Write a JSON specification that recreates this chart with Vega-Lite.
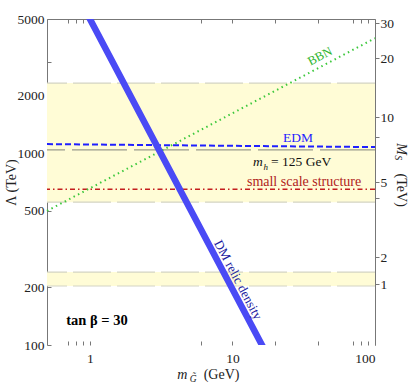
{
  "$schema": "https://vega.github.io/schema/vega-lite/v6.json",
  "width": 328,
  "height": 326,
  "autosize": "none",
  "padding": {"left": 47, "top": 19, "right": 36, "bottom": 43},
  "background": "white",
  "config": {
    "view": {"stroke": null},
    "font": "'Liberation Serif', 'Times New Roman', Times, serif",
    "text": {"font": "'Liberation Serif', 'Times New Roman', Times, serif"},
    "axis": {
      "grid": false,
      "labelFont": "'Liberation Serif', 'Times New Roman', Times, serif",
      "labelFontSize": 13.5,
      "labelColor": "#222222",
      "tickColor": "#777777",
      "domainColor": "#777777",
      "titleFont": "'Liberation Serif', 'Times New Roman', Times, serif",
      "titleFontSize": 14,
      "titleFontWeight": "normal",
      "titleColor": "#222222"
    }
  },
  "resolve": {"scale": {"x": "shared", "y": "shared"}, "axis": {"x": "independent", "y": "independent"}},
  "layer": [
    {
      "data": {"values": [{"lo": 555, "hi": 2317, "m0": 0.5, "m1": 100}, {"lo": 203, "hi": 240, "m0": 0.5, "m1": 100}]},
      "mark": {"type": "rect", "fill": "#fffcd6"},
      "encoding": {
        "x": {"field": "m0", "type": "quantitative", "scale": {"type": "log", "domain": [0.5, 100], "nice": false}, "axis": null},
        "x2": {"field": "m1"},
        "y": {"field": "lo", "type": "quantitative", "scale": {"type": "log", "domain": [100, 5000], "nice": false}, "axis": null},
        "y2": {"field": "hi"}
      }
    },
    {
      "data": {"values": [{"v": 2317}, {"v": 555}, {"v": 240}, {"v": 203}]},
      "mark": {"type": "rule", "color": "#d4d4c4", "strokeWidth": 1.2, "strokeDash": [38, 6]},
      "encoding": {
        "y": {"field": "v", "type": "quantitative", "scale": {"type": "log", "domain": [100, 5000], "nice": false}, "axis": null}
      }
    },
    {
      "data": {"values": [{"v": 1040}]},
      "mark": {"type": "rule", "color": "#9a9a8c", "strokeWidth": 1.3, "strokeDash": [55, 7]},
      "encoding": {
        "y": {"field": "v", "type": "quantitative", "scale": {"type": "log", "domain": [100, 5000], "nice": false}, "axis": null}
      }
    },
    {
      "data": {"values": [{"v": 649}]},
      "mark": {"type": "rule", "color": "#c41e1e", "strokeWidth": 1.5, "strokeDash": [5, 3, 1.5, 3]},
      "encoding": {
        "y": {"field": "v", "type": "quantitative", "scale": {"type": "log", "domain": [100, 5000], "nice": false}, "axis": null}
      }
    },
    {
      "data": {"values": [{"m": 0.5, "L": 1114}, {"m": 100, "L": 1075}]},
      "mark": {"type": "line", "color": "#1f1fff", "strokeWidth": 2, "strokeDash": [6, 3]},
      "encoding": {
        "x": {"field": "m", "type": "quantitative", "scale": {"type": "log", "domain": [0.5, 100], "nice": false}, "axis": null},
        "y": {"field": "L", "type": "quantitative", "scale": {"type": "log", "domain": [100, 5000], "nice": false}, "axis": null}
      }
    },
    {
      "data": {"values": [{"m": 0.5, "L": 500}, {"m": 100, "L": 3970}]},
      "mark": {"type": "line", "color": "#3cc83c", "strokeWidth": 2, "strokeDash": [1.5, 3.5]},
      "encoding": {
        "x": {"field": "m", "type": "quantitative", "scale": {"type": "log", "domain": [0.5, 100], "nice": false},
          "axis": {"orient": "top", "title": null, "values": [0.7, 0.8, 0.9, 1, 6, 10, 20, 40, 70, 80, 90, 100], "labels": false, "tickSize": -4, "domain": true}},
        "y": {"field": "L", "type": "quantitative", "scale": {"type": "log", "domain": [100, 5000], "nice": false},
          "axis": {"orient": "right", "title": null, "values": [207.9, 287.3, 583, 706, 1211, 1540, 3125, 4753], "tickSize": 4, "labelPadding": 1,
            "labelExpr": "datum.value < 250 ? '1' : datum.value < 300 ? '2' : datum.value < 650 ? '' : datum.value < 800 ? '5' : datum.value < 1300 ? '' : datum.value < 2000 ? '10' : datum.value < 4000 ? '20' : '30'"}}
      }
    },
    {
      "data": {"values": [{"m": 0.9, "L": 5800}, {"m": 16.1, "L": 100}, {"m": 18, "L": 86}]},
      "mark": {"type": "line", "color": "#4a4af5", "strokeWidth": 6.5, "clip": true},
      "encoding": {
        "x": {"field": "m", "type": "quantitative", "scale": {"type": "log", "domain": [0.5, 100], "nice": false},
          "axis": {"orient": "bottom", "title": null, "domain": false, "values": [0.7, 0.8, 0.9, 1, 6, 10, 20, 40, 70, 80, 90, 100], "tickSize": -4, "labelPadding": 10,
            "labelExpr": "datum.value == 1 || datum.value == 10 || datum.value == 100 ? format(datum.value, 'd') : ''"}},
        "y": {"field": "L", "type": "quantitative", "scale": {"type": "log", "domain": [100, 5000], "nice": false},
          "axis": {"orient": "left", "title": "Λ (TeV)", "values": [100, 200, 500, 1000, 2000, 3000, 5000], "tickSize": -4, "labelPadding": 7, "titleX": -36, "titleY": 163, "titleAngle": 270, "titleAnchor": "middle", "titleBaseline": "middle", "titleAlign": "center",
            "labelExpr": "datum.value == 3000 ? '' : format(datum.value, 'd')"}}
      }
    },
    {
      "data": {"values": [{"m": 41.1, "L": 3199, "t": "BBN"}]},
      "mark": {"type": "text", "color": "#2fb52f", "fontSize": 12.5, "angle": 332, "align": "center", "baseline": "middle"},
      "encoding": {
        "x": {"field": "m", "type": "quantitative", "scale": {"type": "log", "domain": [0.5, 100], "nice": false}, "axis": null},
        "y": {"field": "L", "type": "quantitative", "scale": {"type": "log", "domain": [100, 5000], "nice": false}, "axis": null},
        "text": {"field": "t"}
      }
    },
    {
      "data": {"values": [{"m": 28.8, "L": 1197, "t": "EDM"}]},
      "mark": {"type": "text", "color": "#1f1fff", "fontSize": 13.5, "align": "center", "baseline": "middle"},
      "encoding": {
        "x": {"field": "m", "type": "quantitative", "scale": {"type": "log", "domain": [0.5, 100], "nice": false}, "axis": null},
        "y": {"field": "L", "type": "quantitative", "scale": {"type": "log", "domain": [100, 5000], "nice": false}, "axis": null},
        "text": {"field": "t"}
      }
    },
    {
      "data": {"values": [{"m": 15.1, "L": 897, "t": "m"}]},
      "mark": {"type": "text", "color": "#111111", "fontSize": 13.5, "fontStyle": "italic", "align": "center", "baseline": "middle"},
      "encoding": {
        "x": {"field": "m", "type": "quantitative", "scale": {"type": "log", "domain": [0.5, 100], "nice": false}, "axis": null},
        "y": {"field": "L", "type": "quantitative", "scale": {"type": "log", "domain": [100, 5000], "nice": false}, "axis": null},
        "text": {"field": "t"}
      }
    },
    {
      "data": {"values": [{"m": 17.1, "L": 850, "t": "h"}]},
      "mark": {"type": "text", "color": "#111111", "fontSize": 9, "fontStyle": "italic", "align": "center", "baseline": "middle"},
      "encoding": {
        "x": {"field": "m", "type": "quantitative", "scale": {"type": "log", "domain": [0.5, 100], "nice": false}, "axis": null},
        "y": {"field": "L", "type": "quantitative", "scale": {"type": "log", "domain": [100, 5000], "nice": false}, "axis": null},
        "text": {"field": "t"}
      }
    },
    {
      "data": {"values": [{"m": 30.3, "L": 897, "t": "= 125 GeV"}]},
      "mark": {"type": "text", "color": "#111111", "fontSize": 13.5, "align": "center", "baseline": "middle"},
      "encoding": {
        "x": {"field": "m", "type": "quantitative", "scale": {"type": "log", "domain": [0.5, 100], "nice": false}, "axis": null},
        "y": {"field": "L", "type": "quantitative", "scale": {"type": "log", "domain": [100, 5000], "nice": false}, "axis": null},
        "text": {"field": "t"}
      }
    },
    {
      "data": {"values": [{"m": 31.8, "L": 706, "t": "small scale structure"}]},
      "mark": {"type": "text", "color": "#b01c1c", "fontSize": 14, "align": "center", "baseline": "middle"},
      "encoding": {
        "x": {"field": "m", "type": "quantitative", "scale": {"type": "log", "domain": [0.5, 100], "nice": false}, "axis": null},
        "y": {"field": "L", "type": "quantitative", "scale": {"type": "log", "domain": [100, 5000], "nice": false}, "axis": null},
        "text": {"field": "t"}
      }
    },
    {
      "data": {"values": [{"m": 10.94, "L": 218, "t": "DM relic density"}]},
      "mark": {"type": "text", "color": "#1c1ca0", "fontSize": 13, "angle": 62, "align": "center", "baseline": "middle"},
      "encoding": {
        "x": {"field": "m", "type": "quantitative", "scale": {"type": "log", "domain": [0.5, 100], "nice": false}, "axis": null},
        "y": {"field": "L", "type": "quantitative", "scale": {"type": "log", "domain": [100, 5000], "nice": false}, "axis": null},
        "text": {"field": "t"}
      }
    },
    {
      "data": {"values": [{"m": 1.12, "L": 133, "t": "tan β = 30"}]},
      "mark": {"type": "text", "color": "#000000", "fontSize": 14.5, "fontWeight": "bold", "align": "center", "baseline": "middle"},
      "encoding": {
        "x": {"field": "m", "type": "quantitative", "scale": {"type": "log", "domain": [0.5, 100], "nice": false}, "axis": null},
        "y": {"field": "L", "type": "quantitative", "scale": {"type": "log", "domain": [100, 5000], "nice": false}, "axis": null},
        "text": {"field": "t"}
      }
    },
    {
      "data": {"values": [{"m": 4.45, "L": 66.6, "t": "m"}]},
      "mark": {"type": "text", "color": "#222222", "fontSize": 14, "fontStyle": "italic", "align": "center", "baseline": "alphabetic"},
      "encoding": {
        "x": {"field": "m", "type": "quantitative", "scale": {"type": "log", "domain": [0.5, 100], "nice": false}, "axis": null},
        "y": {"field": "L", "type": "quantitative", "scale": {"type": "log", "domain": [100, 5000], "nice": false}, "axis": null},
        "text": {"field": "t"}
      }
    },
    {
      "data": {"values": [{"m": 5.3, "L": 64.2, "t": "G̃"}]},
      "mark": {"type": "text", "color": "#222222", "fontSize": 9.5, "fontStyle": "italic", "align": "center", "baseline": "alphabetic"},
      "encoding": {
        "x": {"field": "m", "type": "quantitative", "scale": {"type": "log", "domain": [0.5, 100], "nice": false}, "axis": null},
        "y": {"field": "L", "type": "quantitative", "scale": {"type": "log", "domain": [100, 5000], "nice": false}, "axis": null},
        "text": {"field": "t"}
      }
    },
    {
      "data": {"values": [{"m": 8.38, "L": 66.6, "t": "(GeV)"}]},
      "mark": {"type": "text", "color": "#222222", "fontSize": 14, "align": "center", "baseline": "alphabetic"},
      "encoding": {
        "x": {"field": "m", "type": "quantitative", "scale": {"type": "log", "domain": [0.5, 100], "nice": false}, "axis": null},
        "y": {"field": "L", "type": "quantitative", "scale": {"type": "log", "domain": [100, 5000], "nice": false}, "axis": null},
        "text": {"field": "t"}
      }
    },
    {
      "data": {"values": [{"m": 152, "L": 1049, "t": "M"}]},
      "mark": {"type": "text", "color": "#222222", "fontSize": 14, "fontStyle": "italic", "angle": 90, "align": "center", "baseline": "middle"},
      "encoding": {
        "x": {"field": "m", "type": "quantitative", "scale": {"type": "log", "domain": [0.5, 100], "nice": false}, "axis": null},
        "y": {"field": "L", "type": "quantitative", "scale": {"type": "log", "domain": [100, 5000], "nice": false}, "axis": null},
        "text": {"field": "t"}
      }
    },
    {
      "data": {"values": [{"m": 145, "L": 945, "t": "S"}]},
      "mark": {"type": "text", "color": "#222222", "fontSize": 10, "fontStyle": "italic", "angle": 90, "align": "center", "baseline": "middle"},
      "encoding": {
        "x": {"field": "m", "type": "quantitative", "scale": {"type": "log", "domain": [0.5, 100], "nice": false}, "axis": null},
        "y": {"field": "L", "type": "quantitative", "scale": {"type": "log", "domain": [100, 5000], "nice": false}, "axis": null},
        "text": {"field": "t"}
      }
    },
    {
      "data": {"values": [{"m": 152, "L": 641, "t": "(TeV)"}]},
      "mark": {"type": "text", "color": "#222222", "fontSize": 14, "angle": 90, "align": "center", "baseline": "middle"},
      "encoding": {
        "x": {"field": "m", "type": "quantitative", "scale": {"type": "log", "domain": [0.5, 100], "nice": false}, "axis": null},
        "y": {"field": "L", "type": "quantitative", "scale": {"type": "log", "domain": [100, 5000], "nice": false}, "axis": null},
        "text": {"field": "t"}
      }
    }
  ]
}
